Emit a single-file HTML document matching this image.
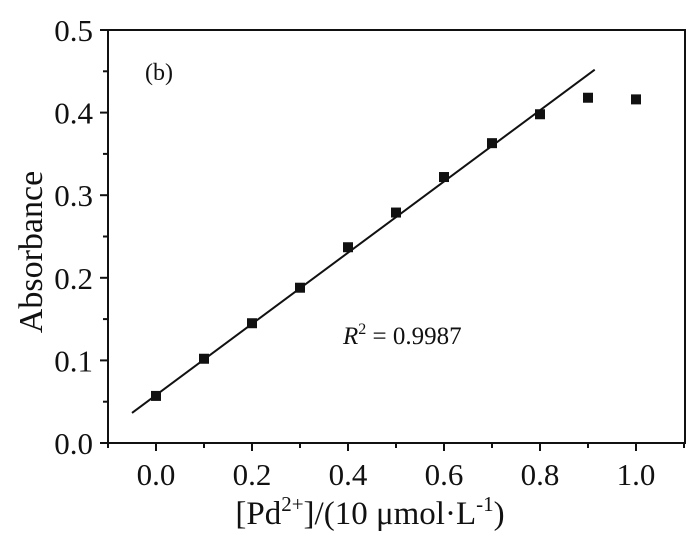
<!DOCTYPE html>
<html><head><meta charset="utf-8"><style>
html,body{margin:0;padding:0;background:#fff;}
svg text{font-family:"Liberation Serif",serif;fill:#111;}
</style></head><body>
<svg id="chart" width="700" height="539" viewBox="0 0 700 539">
<rect x="108" y="30" width="577" height="413" fill="none" stroke="#111" stroke-width="2"/>
<g id="axes"></g>
<g id="marks"></g>
<text x="145" y="80" font-size="24">(b)</text>
<text x="343" y="344" font-size="25"><tspan font-style="italic">R</tspan><tspan dy="-10" font-size="16">2</tspan><tspan dy="10"> = 0.9987</tspan></text>
<text x="370" y="524" font-size="33" text-anchor="middle">[Pd<tspan dy="-13" font-size="21">2+</tspan><tspan dy="13">]/(10 μmol·L</tspan><tspan dy="-13" font-size="21">-1</tspan><tspan dy="13">)</tspan></text>
<text transform="translate(42,252) rotate(-90)" font-size="34" text-anchor="middle">Absorbance</text>
</svg>
<script>
const conc = [0.0,0.1,0.2,0.3,0.4,0.5,0.6,0.7,0.8,0.9,1.0];
const absorbance = [0.057,0.102,0.145,0.188,0.237,0.279,0.322,0.363,0.398,0.418,0.416];
const fitSlope = 0.431;
const fitIntercept = 0.058;
const fitRange = [-0.05,0.914];
const xTicks = ["0.0","0.2","0.4","0.6","0.8","1.0"];
const yTicks = ["0.0","0.1","0.2","0.3","0.4","0.5"];
const NS="http://www.w3.org/2000/svg";
const X0=-0.1,X1=1.1,Y0=0,Y1=0.5, L=108,R=684,T=30,B=443;
const sx=v=>L+(v-X0)/(X1-X0)*(R-L);
const sy=v=>B-(v-Y0)/(Y1-Y0)*(B-T);
const axes=document.getElementById('axes'), marks=document.getElementById('marks');
function mk(tag,attrs,parent){const e=document.createElementNS(NS,tag);for(const k in attrs)e.setAttribute(k,attrs[k]);parent.appendChild(e);return e;}
xTicks.forEach(t=>{const v=parseFloat(t),x=sx(v);
 const tk=mk('line',{x1:x,x2:x,y1:B,y2:B+8,stroke:'#111','stroke-width':2},axes);
 
 
 const m=mk('line',{x1:sx(v+0.1),x2:sx(v+0.1),y1:B,y2:B+5,stroke:'#111','stroke-width':2},axes);
 
 
 const tx=mk('text',{x:x,y:B+42,'font-size':31,'text-anchor':'middle'},axes);tx.textContent=t;
 
 
});
const m0=mk('line',{x1:sx(-0.1),x2:sx(-0.1),y1:B,y2:B+5,stroke:'#111','stroke-width':2},axes);


yTicks.forEach(t=>{const v=parseFloat(t),y=sy(v);
 const tk=mk('line',{x1:L-8,x2:L,y1:y,y2:y,stroke:'#111','stroke-width':2},axes);
 
 
 if(v<0.5){const m=mk('line',{x1:L-5,x2:L,y1:sy(v+0.05),y2:sy(v+0.05),stroke:'#111','stroke-width':2},axes);
 
 }
 const tx=mk('text',{x:L-15,y:y+11,'font-size':31,'text-anchor':'end'},axes);tx.textContent=t;
 
 
});
const fl=mk('line',{x1:sx(fitRange[0]),y1:sy(fitIntercept+fitSlope*fitRange[0]),x2:sx(fitRange[1]),y2:sy(fitIntercept+fitSlope*fitRange[1]),stroke:'#111','stroke-width':2},marks);


conc.forEach((c,i)=>{const p=mk('rect',{x:sx(c)-5,y:sy(absorbance[i])-5,width:10,height:10,fill:'#111'},marks);
 
 
});
</script>
</body></html>
